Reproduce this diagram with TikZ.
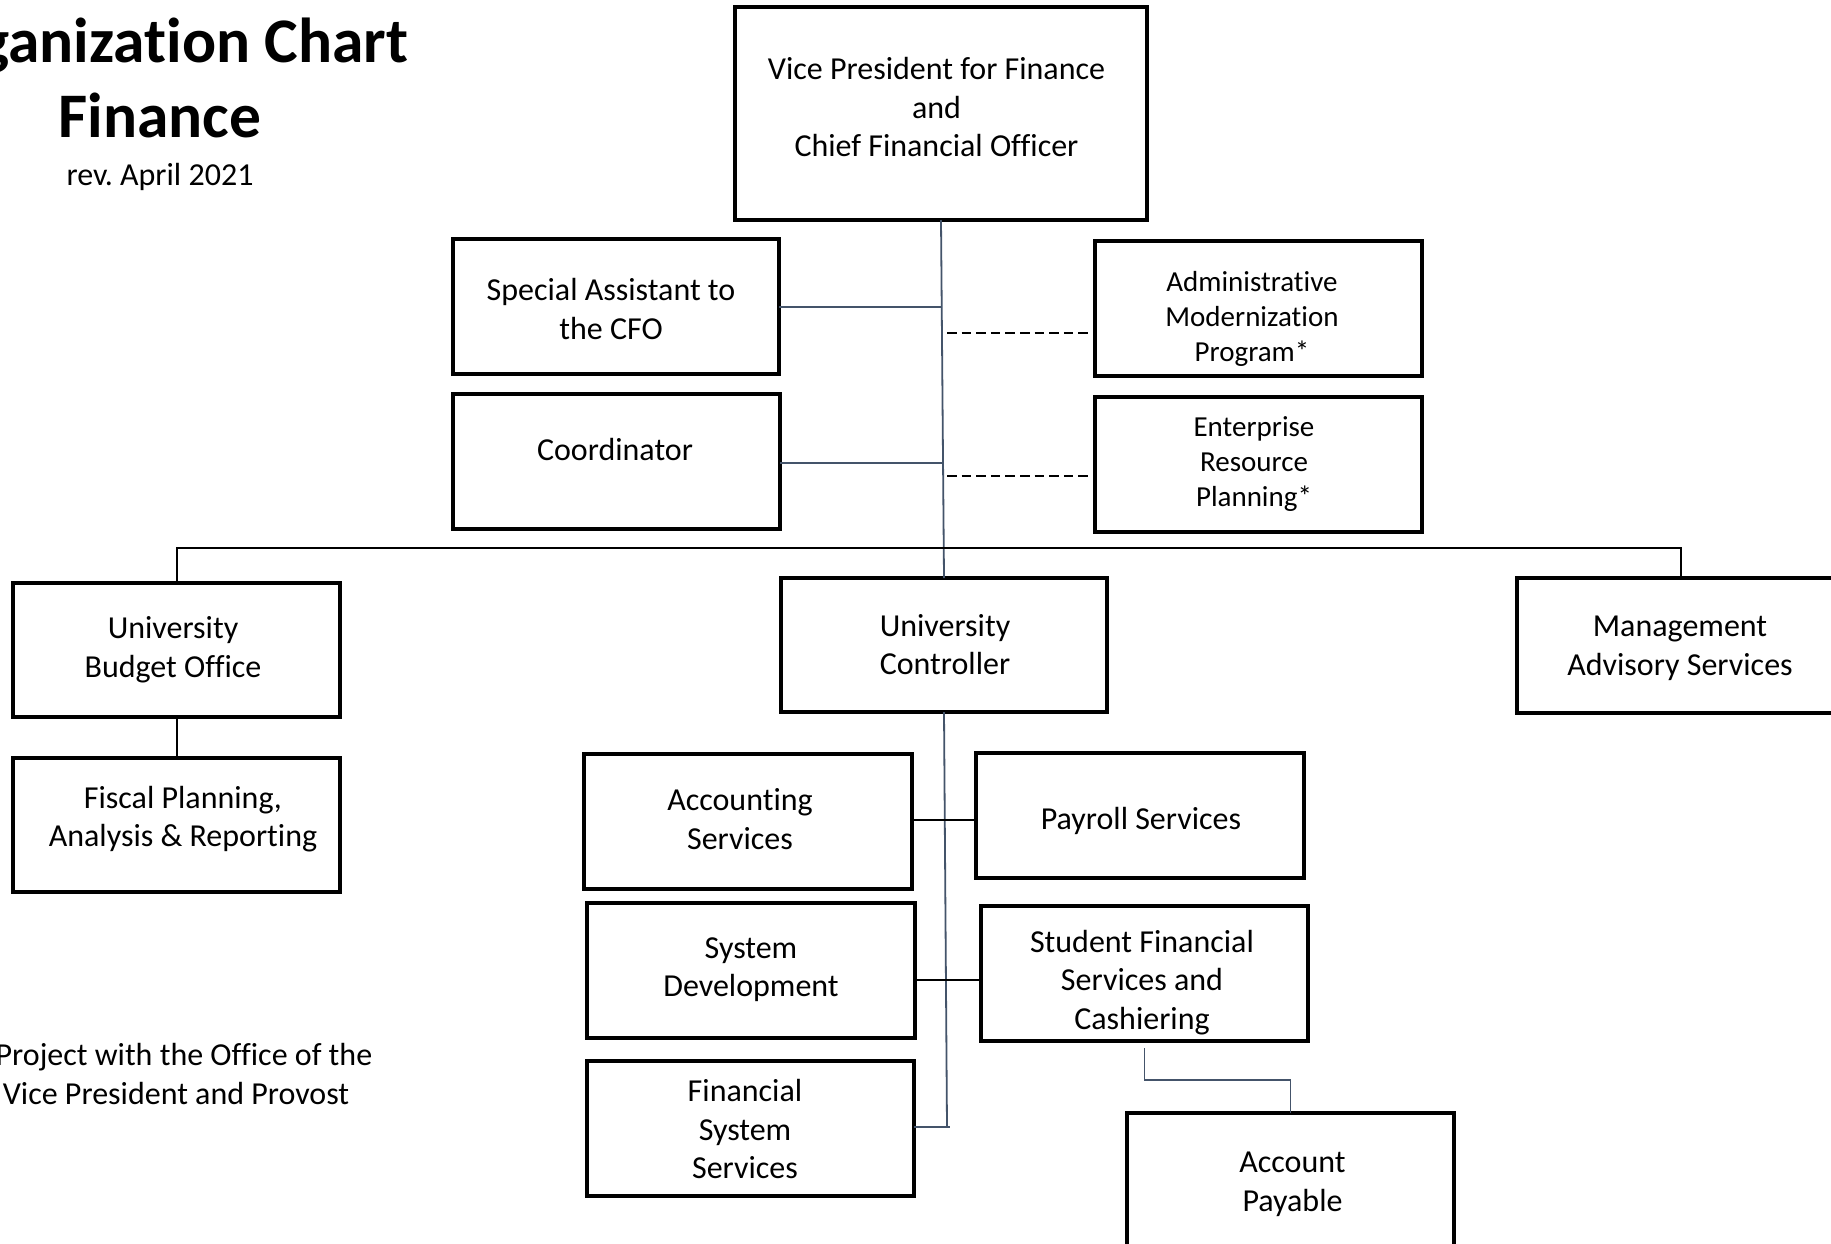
\documentclass[tikz,border=0pt]{standalone}
\usepackage{fontspec}
\setmainfont{Carlito}[Ligatures=NoCommon]
\definecolor{slatec}{RGB}{68,84,106}
\begin{document}
\frenchspacing
\begin{tikzpicture}[x=1pt,y=-1pt,
  box/.style={draw=black, line width=3.1pt, inner sep=0pt, outer sep=0pt,
    minimum width=327pt, minimum height=135pt},
  txt/.style={font=\fontsize{32}{38.5}\selectfont, align=center, inner sep=0pt},
  smalltxt/.style={font=\fontsize{29}{35}\selectfont, align=center, inner sep=0pt},
  blk/.style={draw=black, line width=2pt},
  slate/.style={draw=slatec, line width=1.8pt},
  dashline/.style={draw=black, line width=2pt, dash pattern=on 9.5pt off 5.1pt},
]
\useasboundingbox (0,0) rectangle (1831,1243);
\fill[white] (0,0) rectangle (1831,1243);
\clip (0,0) rectangle (1831,1243);

% title
\node[font=\bfseries\fontsize{63.5}{70}\selectfont, anchor=base east, inner sep=0pt] (t1) at (408.5,62) {Organization Chart};
\node[font=\bfseries\fontsize{63.5}{70}\selectfont, anchor=base, inner sep=0pt] (t2) at (160,137) {Finance};
\node[font=\fontsize{32}{38}\selectfont, anchor=base, inner sep=0pt] (t3) at (160,185) {rev. April 2021};

% footnote
\node[txt] (note) at (176,1073.5) {*Project with the Office of the\\Vice President and Provost};

% boxes
\node[box, minimum width=412pt, minimum height=213pt,
  label={[txt,xshift=-4.5pt,yshift=6pt]center:{Vice President for Finance\\and\\Chief Financial Officer}}] (vp) at (941,113.5) {};
\node[box, minimum width=326pt,
  label={[txt,xshift=-5pt,yshift=-2.5pt]center:{Special Assistant to\\the CFO}}] (sa) at (616,306.5) {};
\node[box,
  label={[txt,xshift=-1.5pt,yshift=12pt]center:{Coordinator}}] (co) at (616.5,461.5) {};
\node[box,
  label={[smalltxt,xshift=-6.5pt,yshift=-10.3pt]center:{Administrative\\Modernization\\Program*}}] (adm) at (1258.5,308.5) {};
\node[box,
  label={[smalltxt,xshift=-4.5pt,yshift=0.2pt]center:{Enterprise\\Resource\\Planning*}}] (erp) at (1258.5,464.5) {};
\node[box, minimum height=134pt,
  label={[txt,xshift=-3.5pt,yshift=0.2pt]center:{University\\Budget Office}}] (bud) at (176.5,650) {};
\node[box, minimum height=134pt,
  label={[txt,xshift=6.5pt,yshift=6pt]center:{Fiscal Planning,\\Analysis \& Reporting}}] (fis) at (176.5,825) {};
\node[box, minimum width=326pt, minimum height=134pt,
  label={[txt,xshift=1pt,yshift=0.5pt]center:{University\\Controller}}] (ctrl) at (944,645) {};
\node[box, minimum width=328pt,
  label={[txt,xshift=-1pt,yshift=-2.8pt]center:{Management\\Advisory Services}}] (mgmt) at (1681,645.5) {};
\node[box, minimum width=328pt,
  label={[txt,xshift=-8pt,yshift=2.5pt]center:{Accounting\\Services}}] (acc) at (748,821.5) {};
\node[box, minimum width=328pt, minimum height=125pt,
  label={[txt,xshift=1pt,yshift=-5.3pt]center:{Payroll Services}}] (pay) at (1140,815.5) {};
\node[box, minimum width=328pt,
  label={[txt,xshift=0pt,yshift=1pt]center:{System\\Development}}] (sd) at (751,970.5) {};
\node[box,
  label={[txt,xshift=-2.5pt,yshift=-8.8pt]center:{Student Financial\\Services and\\Cashiering}}] (sf) at (1144.5,973.5) {};
\node[box,
  label={[txt,xshift=-5.5pt,yshift=-0.5pt]center:{Financial\\System\\Services}}] (fss) at (750.5,1128.5) {};
\node[box,
  label={[txt,xshift=2pt,yshift=-4pt]center:{Account\\Payable}}] (ap) at (1290.5,1180.5) {};

% junction coordinates
\coordinate (j1) at (942,307);
\coordinate (j2) at (942.5,463);
\coordinate (d1) at (947,333);
\coordinate (d2) at (947,476);
\coordinate (h) at (942,547.5);
\coordinate (cb) at (947,1127);
\coordinate (cb2) at (950,1127);
\coordinate (k1) at (944,819.5);
\coordinate (k2) at (944,980);
\coordinate (apj) at (1290.5,1080);

% connectors
\draw[slate] (vp.south) -- (ctrl.north);
\draw[slate] (sa.east |- j1) -- (j1);
\draw[slate] (co.east |- j2) -- (j2);
\draw[dashline, shorten >=7pt] (d1) -- (d1 -| adm.west);
\draw[dashline, shorten >=7pt] (d2) -- (d2 -| erp.west);
\draw[blk] (bud.north) -- (bud.north |- h) -- (mgmt.north |- h) -- (mgmt.north);
\draw[blk] (bud.south) -- (fis.north);
\draw[slate] (ctrl.south) -- (cb);
\draw[slate] (fss.east |- cb) -- (cb2);
\draw[blk] (acc.east |- k1) -- (pay.west |- k1);
\draw[blk] (sd.east |- k2) -- (sf.west |- k2);
\draw[slate, shorten <=7pt] (sf.south) |- (apj) -- (ap.north);
\end{tikzpicture}
\end{document}
